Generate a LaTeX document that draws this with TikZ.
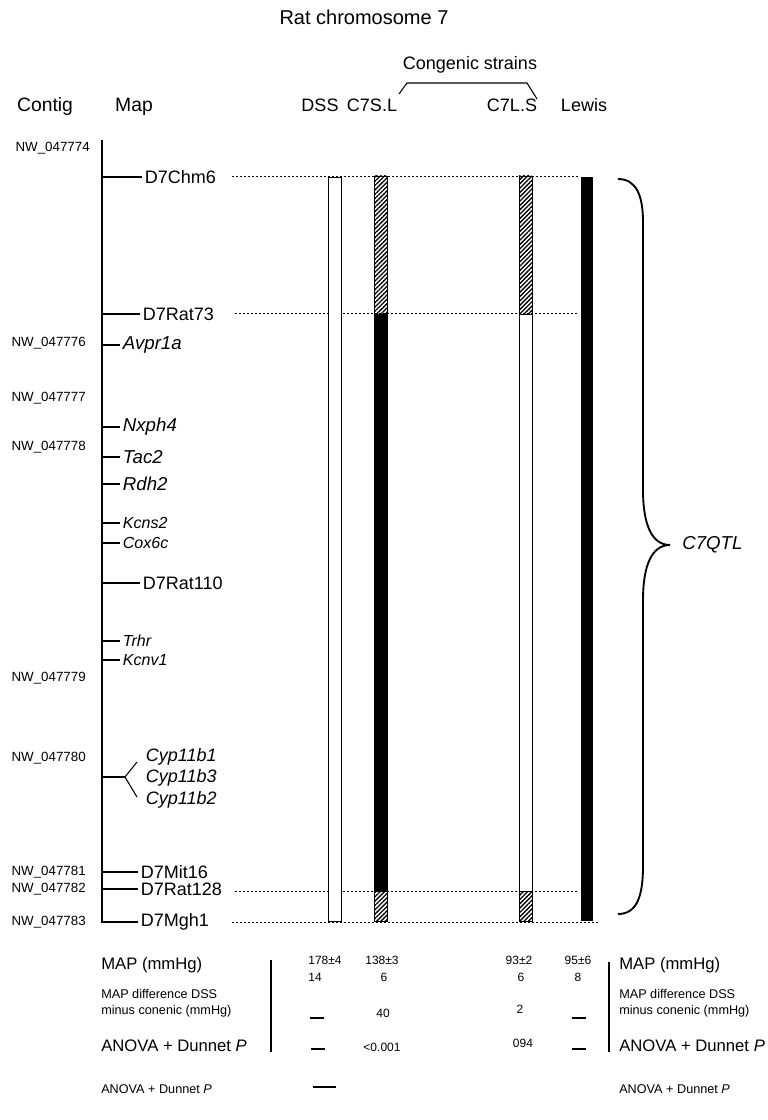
\documentclass[tikz,border=0pt]{standalone}
\usepackage{fontspec}
\setmainfont{Liberation Sans}
\usetikzlibrary{patterns.meta}

\begin{document}
\begin{tikzpicture}[x=0.75pt,y=-0.75pt,
  hd/.style={font=\fontsize{14.5}{17}\selectfont,inner sep=0pt},
  st/.style={font=\fontsize{13.5}{16}\selectfont,inner sep=0pt},
  nw/.style={anchor=east,font=\fontsize{10}{12}\selectfont,inner sep=0pt},
  mk/.style={anchor=west,font=\fontsize{13.5}{16}\selectfont,inner sep=2pt},
  gn/.style={anchor=west,font=\fontsize{14}{16}\selectfont\itshape,inner sep=2pt},
  gs/.style={anchor=west,font=\fontsize{12}{14}\selectfont\itshape,inner sep=2pt},
  tl/.style={anchor=west,font=\fontsize{12.5}{15}\selectfont,inner sep=0pt},
  ts/.style={anchor=west,font=\fontsize{9.5}{12}\selectfont,inner sep=0pt,align=left},
  val/.style={font=\fontsize{9}{11}\selectfont,inner sep=0pt},
  dots/.style={line width=0.6pt,dash pattern=on 1.5pt off 1.5pt},
  bar/.style={draw,line width=0.6pt,fill=white},
  hatch/.style={draw,line width=0.6pt,fill=white,pattern={Lines[angle=45,distance=2.3pt,line width=1pt]}},
  tick/.style={line width=0.8pt}]
\useasboundingbox (0,0) rectangle (767,1120);

\node[font=\fontsize{15}{18}\selectfont] (title) at (364,17) {Rat chromosome 7};
\node[st] (cong) at (470,65) {Congenic strains};
\node[hd] (contig) at (45,107) {Contig};
\node[hd] (map) at (134,107) {Map};
\foreach \x/\n/\t in {320/dss/DSS,372/csl/C7S.L,512/cls/C7L.S,584/lew/Lewis} {
   \node[st] (\n) at (\x,105) {\t};
}
\draw[tick] (399,94) -- (407,83) -- (527,83) -- (537,99);

\node[nw] (nw74) at (90,148) {NW\_047774};
\foreach \y/\n in %
{343/76,398/77,447/78,678/79,758/80,872/81,889/82,922/83} {
   \node[nw] (nw\n) at (86,\y) {NW\_0477\n};
}

\foreach \y/\n/\t in %
{176/232/579,313/235/579,891/235/579,922/232/600} {
   \draw[dots] (\n,\y) -- (\t,\y);
}

\draw[line width=1.5pt] (102,140) -- (102,922.5);
\foreach \x/\y/\n/\t in %
{142/177/chm6/D7Chm6,140/314/rat73/D7Rat73,140/583/rat110/D7Rat110,%
 138/872/mit16/D7Mit16,138/889/rat128/D7Rat128,138/922/mgh1/D7Mgh1} {
   \node[mk] (\n) at (\x,\y) {\t};
   \draw[tick] (102,\y) -- (\n.west);
}
\foreach \y/\n/\t in {345/avpr/Avpr1a,427/nxph/Nxph4,457/tac/Tac2,484/rdh/Rdh2} {
   \node[gn] (\n) at (120,\y) {\t};
   \draw[tick] (102,\y) -- (\n.west);
}
\foreach \y/\n/\t in {523/kcns/Kcns2,543/cox/Cox6c,641/trhr/Trhr,660/kcnv/Kcnv1} {
   \node[gs] (\n) at (120,\y) {\t};
   \draw[tick] (102,\y) -- (\n.west);
}
\coordinate (fork) at (125,777);
\coordinate (forkup) at (137,762);
\coordinate (forkdn) at (137,797);
\foreach \y/\n/\t in {757/cypa/Cyp11b1,778/cypc/Cyp11b3,800/cypb/Cyp11b2} {
   \node[gn,font=\fontsize{13.5}{16}\selectfont\itshape] (\n) at (143,\y) {\t};
}
\draw[tick] (102,777) -- (fork);
\draw[tick] (forkup) -- (fork) -- (forkdn);

\draw[bar] (328,177) rectangle (341,921);
\draw[hatch] (374,176) rectangle (387,314);
\draw[bar,fill=black] (374,314) rectangle (387,891);
\draw[hatch] (374,891) rectangle (387,921);
\draw[hatch] (519,176) rectangle (532,314);
\draw[bar] (519,314) rectangle (532,891);
\draw[hatch] (519,891) rectangle (532,921);
\fill (581,177) rectangle (593,921);

\draw[line width=1.4pt] (618,179) .. controls (636,179) and (643,195) .. (643,222)
   -- (643,490) .. controls (643,525) and (652,545) .. (670,545)
   .. controls (652,545) and (643,565) .. (643,600)
   -- (643,866) .. controls (643,898) and (636,914) .. (618,914);
\node[anchor=west,font=\fontsize{14}{16}\selectfont\itshape,inner sep=0pt] (qtl) at (682,545) {C7QTL};

\foreach \x/\n in {101/l,619/r} {
   \node[tl] (map\n) at (\x,965) {MAP (mmHg)};
   \node[ts] (diff\n) at (\x,1003) {MAP difference DSS\\minus conenic (mmHg)};
   \node[tl] (anova\n) at (\x,1046) {ANOVA + Dunnet \textit{P}};
   \node[ts] (dunnet\n) at (\x,1089) {ANOVA + Dunnet \textit{P}};
}
\draw[line width=1.5pt] (271,960) -- (271,1052);
\draw[line width=1.5pt] (609,962) -- (609,1052);

\node[val] (dssmap) at (325,960) {178±4};
\node[val] (dssn) at (315,977) {14};
\node[val] (cslmap) at (382,960) {138±3};
\node[val] (csln) at (384,977) {6};
\node[val] (csldiff) at (383,1013) {40};
\node[val] (cslp) at (382,1047) {<0.001};
\node[val] (clsmap) at (519,960) {93±2};
\node[val] (clsn) at (521,977) {6};
\node[val] (clsdiff) at (520,1009) {2};
\node[val] (clsp) at (523,1043) {094};
\node[val] (lewmap) at (578,960) {95±6};
\node[val] (lewn) at (578,977) {8};
\foreach \x/\y/\l in {310/1018/14,311/1049/14,313/1087/23,572/1018/14,572/1049/14} {
   \draw[line width=1pt] (\x,\y) -- ++(\l,0);
}
\end{tikzpicture}
\end{document}
